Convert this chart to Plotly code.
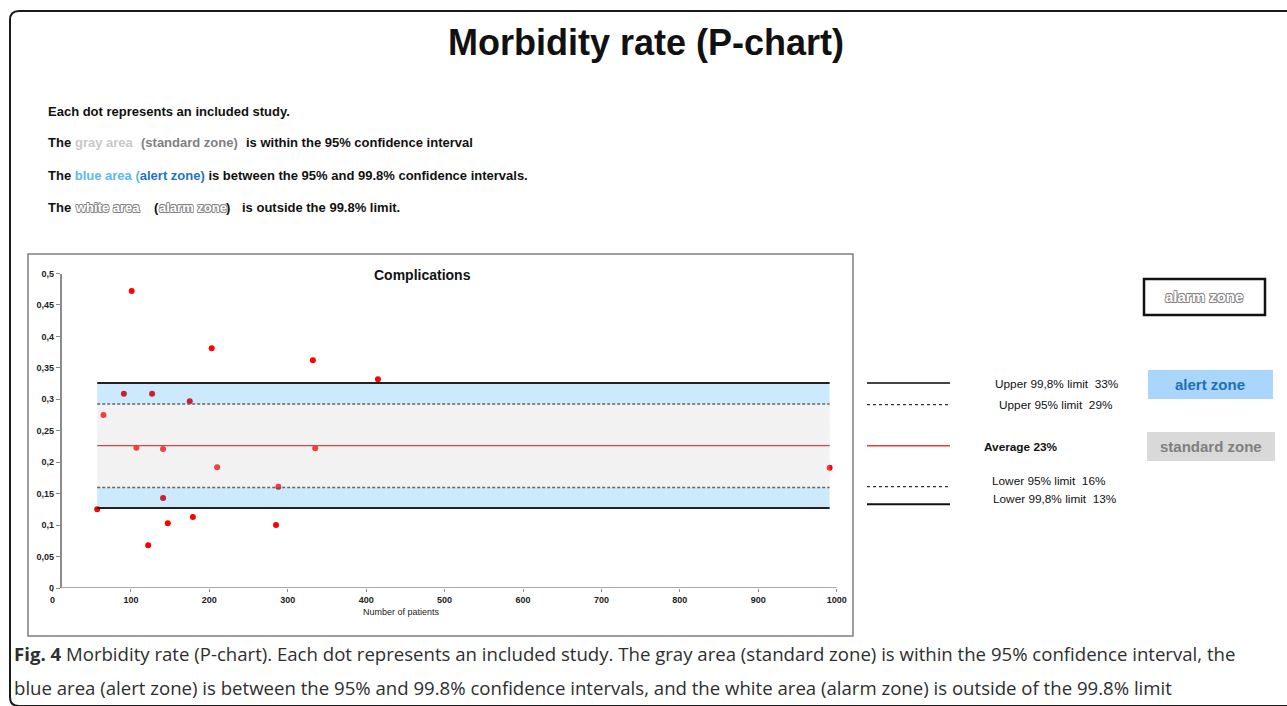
import plotly.graph_objects as go

W, H = 1287, 706

# ---------------- data ----------------
n_patients = [57, 65, 91, 101, 107, 122, 127, 141, 141, 147, 175, 179, 203, 210, 285, 288, 332, 335, 415, 991]
morbidity = [0.125, 0.275, 0.309, 0.472, 0.223, 0.068, 0.309, 0.221, 0.143, 0.103,
             0.297, 0.113, 0.381, 0.192, 0.100, 0.161, 0.362, 0.222, 0.332, 0.191]

average = 0.2265
upper_95 = 0.2926
lower_95 = 0.1598
upper_998 = 0.326
lower_998 = 0.127

x_tick_vals = [0, 100, 200, 300, 400, 500, 600, 700, 800, 900, 1000]
x_tick_text = ["0", "100", "200", "300", "400", "500", "600", "700", "800", "900", "1000"]
y_tick_vals = [0, 0.05, 0.1, 0.15, 0.2, 0.25, 0.3, 0.35, 0.4, 0.45, 0.5]
y_tick_text = ["0", "0,05", "0,1", "0,15", "0,2", "0,25", "0,3", "0,35", "0,4", "0,45", "0,5"]

legend_labels = ["Upper 99,8% limit\u00a0\u00a033%", "Upper 95% limit\u00a0\u00a029%",
                 "<b>Average 23%</b>", "Lower 95% limit\u00a0\u00a016%", "Lower 99,8% limit\u00a0\u00a013%"]
zone_labels = ["alarm zone", "alert zone", "standard zone"]

# ---------------- helpers ----------------
def px(x):
    return x / W

def py(y):
    return 1 - y / H

FONT = "Liberation Sans, Arial, sans-serif"
OUTLINE = ("-0.6px -0.6px 0 #858585, 0.6px -0.6px 0 #858585, -0.6px 0.6px 0 #858585, 0.6px 0.6px 0 #858585, "
           "0 0.7px 0 #858585, 0 -0.7px 0 #858585, 0.7px 0 0 #858585, -0.7px 0 0 #858585")

fig = go.Figure()
fig.add_trace(go.Scatter(
    x=n_patients, y=morbidity, mode="markers",
    marker=dict(color="#ff0000", size=6, line=dict(width=0)),
    hoverinfo="x+y", showlegend=False,
))

shapes = []
# outer rounded frame
r = 9
shapes.append(dict(type="path", xref="paper", yref="paper",
                   path=f"M {px(1300)},{py(11)} L {px(10 + r)},{py(11)} Q {px(10)},{py(11)} {px(10)},{py(11 + r)} "
                        f"L {px(10)},{py(706 - r)} Q {px(10)},{py(706)} {px(10 + r)},{py(706)} L {px(1300)},{py(706)}",
                   line=dict(color="#1a1a1a", width=2)))
# chart box
shapes.append(dict(type="rect", xref="paper", yref="paper", x0=px(28), x1=px(853), y0=py(636), y1=py(254),
                   line=dict(color="#7f7f7f", width=1.5), fillcolor="rgba(0,0,0,0)", layer="below"))

xmin, xmax = min(n_patients), max(n_patients)
# zone bands (above markers, translucent)
for y0, y1, col in [(upper_95, upper_998, "rgba(0,150,240,0.2)"),
                    (lower_998, lower_95, "rgba(0,150,240,0.2)"),
                    (lower_95, upper_95, "rgba(212,212,212,0.3)")]:
    shapes.append(dict(type="rect", xref="x", yref="y", x0=xmin, x1=xmax, y0=y0, y1=y1,
                       fillcolor=col, line=dict(width=0), layer="above"))
# limit lines
for yv, col, w, dash in [(upper_998, "#222222", 2, "solid"), (lower_998, "#222222", 2, "solid"),
                         (upper_95, "#666666", 1.5, "3px,2px"), (lower_95, "#666666", 1.5, "3px,2px"),
                         (average, "#e8403f", 1.3, "solid")]:
    shapes.append(dict(type="line", xref="x", yref="y", x0=xmin, x1=xmax, y0=yv, y1=yv,
                       line=dict(color=col, width=w, dash=dash), layer="above"))
# x axis line from y-axis crossing
shapes.append(dict(type="line", xref="x", yref="y", x0=10, x1=1000, y0=0, y1=0,
                   line=dict(color="#8c8c8c", width=1.5), layer="above"))

# right-side legend lines
leg_y = [383, 404.7, 445.7, 486.7, 504.3]
leg_style = [("#444444", 2, "solid"), ("#333333", 1.3, "dot"), ("#ee3b2b", 1.5, "solid"),
             ("#333333", 1.3, "dot"), ("#111111", 2, "solid")]
for yy, (col, w, dash) in zip(leg_y, leg_style):
    shapes.append(dict(type="line", xref="paper", yref="paper", x0=px(867), x1=px(950), y0=py(yy), y1=py(yy),
                       line=dict(color=col, width=w, dash=dash)))

# zone boxes
shapes.append(dict(type="rect", xref="paper", yref="paper", x0=px(1144), x1=px(1265), y0=py(315), y1=py(279),
                   line=dict(color="#111111", width=2.5), fillcolor="white"))
shapes.append(dict(type="rect", xref="paper", yref="paper", x0=px(1148), x1=px(1273), y0=py(399), y1=py(370),
                   line=dict(width=0), fillcolor="#a9d6fa"))
shapes.append(dict(type="rect", xref="paper", yref="paper", x0=px(1147), x1=px(1275), y0=py(461), y1=py(432),
                   line=dict(width=0), fillcolor="#d9d9d9"))

ann = []
def txt(x, y, text, size, color="#111111", bold=False, xanchor="left", family=FONT, shadow=None):
    f = dict(family=family, size=size, color=color)
    if bold:
        f["weight"] = "bold"
    if shadow:
        f["shadow"] = shadow
    ann.append(dict(x=px(x), y=py(y), xref="paper", yref="paper", text=text, showarrow=False,
                    xanchor=xanchor, yanchor="middle", font=f))

# titles
txt(646, 42, "Morbidity rate (P-chart)", 36, "#111111", True, "center")
txt(46, 111, "Each dot represents an included study.", 13, "#111111", True)
txt(46, 143, "The ", 13, "#111111", True)
txt(73, 143, "gray area", 13, "#c8c8c8", True)
txt(139, 143, "(standard zone)", 13, "#7f7f7f", True)
txt(244, 143, "is within the 95% confidence interval", 13, "#111111", True)
txt(46, 175, "The <span style='color:#5cb8f2'>blue area (</span><span style='color:#1f74c0'>alert zone)</span> "
             "is between the 95% and 99.8% confidence intervals.", 13, "#111111", True)
txt(46, 207, "The ", 13, "#111111", True)
txt(73, 207, "white area", 13, "#ffffff", True, shadow=OUTLINE)
txt(152, 207, "(", 13, "#111111", True)
txt(157, 207, "alarm zone", 13, "#ffffff", True, shadow=OUTLINE)
txt(224, 207, ")", 13, "#111111", True)
txt(240, 207, "is outside the 99.8% limit.", 13, "#111111", True)

# chart title and axis title
txt(423, 275, "Complications", 14, "#111111", True, "center")
txt(401, 612, "Number of patients", 9, "#222222", False, "center")

# legend labels
leg_tx = [(993, 383.7), (997, 405), (982, 446.7), (990, 481.3), (991, 499.3)]
for (xx, yy), lab in zip(leg_tx, legend_labels):
    txt(xx, yy, lab, 11.8, "#111111")

# zone labels
txt(1204, 297, zone_labels[0], 15, "#ffffff", True, "center", shadow=OUTLINE)
txt(1210, 384, zone_labels[1], 15, "#1f6fb5", True, "center")
txt(1211, 446, zone_labels[2], 15, "#7f7f7f", True, "center")

# caption
CAP = "Open Sans, Noto Sans, sans-serif"
txt(12, 653, "<b>Fig. 4</b> Morbidity rate (P-chart). Each dot represents an included study. The gray area "
             "(standard zone) is within the 95% confidence interval, the", 18.6, "#2e2e2e", False, family=CAP)
txt(12, 687, "blue area (alert zone) is between the 95% and 99.8% confidence intervals, and the white area "
             "(alarm zone) is outside of the 99.8% limit", 18.6, "#2e2e2e", False, family=CAP)

fig.update_layout(
    width=W, height=H, margin=dict(l=0, r=0, t=0, b=0, pad=0, autoexpand=False),
    paper_bgcolor="white", plot_bgcolor="rgba(0,0,0,0)",
    showlegend=False, shapes=shapes, annotations=ann,
    xaxis=dict(domain=[52.5 / W, 836.7 / W], range=[0, 1000], anchor="y", automargin=False,
               showgrid=False, zeroline=False, showline=False,
               tickmode="array", tickvals=x_tick_vals, ticktext=x_tick_text,
               ticks="outside", ticklen=3, tickcolor="#8c8c8c", tickwidth=1,
               tickfont=dict(family=FONT, size=9, color="#222222", weight="bold")),
    yaxis=dict(domain=[(H - 588) / H, (H - 273.5) / H], range=[0, 0.5], anchor="free", automargin=False,
               position=60.5 / W, showgrid=False, zeroline=False, showline=True,
               linecolor="#8c8c8c", linewidth=1.5,
               tickmode="array", tickvals=y_tick_vals, ticktext=y_tick_text,
               ticks="outside", ticklen=4, tickcolor="#8c8c8c", tickwidth=1,
               tickfont=dict(family=FONT, size=9, color="#222222", weight="bold")),
)

fig.write_html("out.html", config={"displayModeBar": False},
               post_script="document.body.style.margin='0';document.body.style.overflow='hidden';")
